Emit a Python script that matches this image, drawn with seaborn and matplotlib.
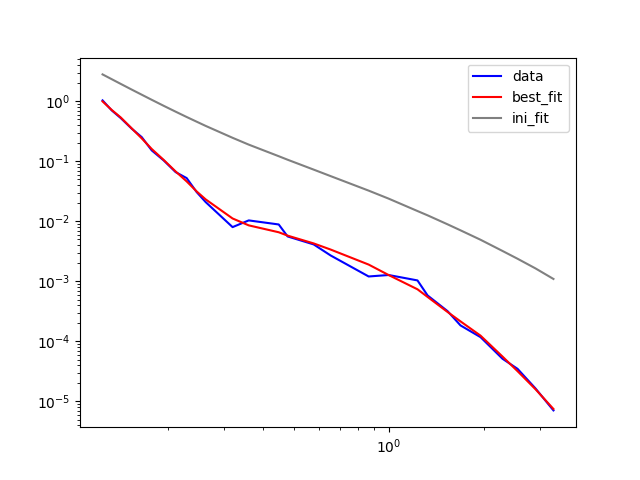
import matplotlib
matplotlib.use("Agg")
import matplotlib.pyplot as plt
import seaborn as sns

x = [0.124, 0.1326, 0.1416, 0.1534, 0.165, 0.1775, 0.1936, 0.2113, 0.229, 0.2463,
     0.263, 0.320, 0.360, 0.448, 0.478, 0.578, 0.654, 0.863, 0.998, 1.232,
     1.326, 1.534, 1.686, 1.951, 2.290, 2.555, 2.912, 3.32]

data = [1.04, 0.708, 0.527, 0.351, 0.254, 0.1525, 0.104, 0.0663, 0.0527, 0.0308,
        0.021, 0.00804, 0.0104, 0.0089, 0.00562, 0.00414, 0.00271, 0.00121, 0.00128, 0.00104,
        0.000585, 0.00032, 0.000185, 0.000118, 5.15e-5, 3.5e-5, 1.65e-5, 7.1e-6]

best_fit = [1.0, 0.72, 0.54, 0.355, 0.242, 0.161, 0.106, 0.068, 0.0464, 0.0316,
            0.0233, 0.0112, 0.0086, 0.0066, 0.0058, 0.0043, 0.0034, 0.00191, 0.00128, 0.00074,
            0.000552, 0.00031, 0.000216, 0.000125, 5.6e-5, 3.2e-5, 1.6e-5, 7.5e-6]

ini_fit = [2.818, 2.344, 1.957, 1.573, 1.293, 1.063, 0.845, 0.674, 0.5495, 0.459,
           0.3906, 0.2474, 0.1905, 0.1221, 0.1067, 0.073, 0.0569, 0.0326, 0.024, 0.0149,
           0.01264, 0.00895, 0.00711, 0.00495, 0.00322, 0.00239, 0.00165, 0.0011]

fig, ax = plt.subplots(figsize=(6.4, 4.8), dpi=100)
sns.lineplot(x=x, y=data, color="blue", label="data", ax=ax, sort=False, estimator=None)
sns.lineplot(x=x, y=best_fit, color="red", label="best_fit", ax=ax, sort=False, estimator=None)
sns.lineplot(x=x, y=ini_fit, color="gray", label="ini_fit", ax=ax, sort=False, estimator=None)
ax.set_xscale("log")
ax.set_yscale("log")
ax.legend(loc="upper right")
fig.savefig("out.png", dpi=100)
